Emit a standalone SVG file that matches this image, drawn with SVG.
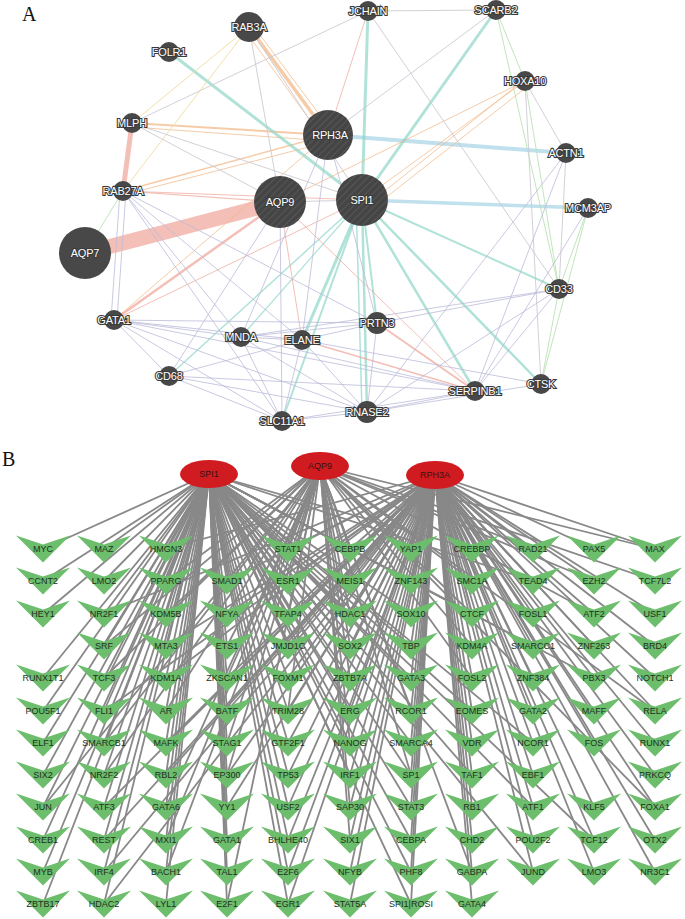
<svg xmlns="http://www.w3.org/2000/svg" width="685" height="919" viewBox="0 0 685 919">
<style>
.pl{font-family:"Liberation Serif","Times New Roman",serif;font-size:20px;fill:#111}
.ea line{fill:none;stroke-linecap:round}
.pu{stroke:#bcbcdb;stroke-width:1;opacity:.8}
.gy{stroke:#c8c8d0;stroke-width:1;opacity:.85}
.te{stroke:#8fd5c8;opacity:.7}
.bl{stroke:#a9d5e6;opacity:.75}
.or{stroke:#f2b581;opacity:.7}
.sa{stroke:#ec9c90;opacity:.65}
.gr{stroke:#b7e0b0;opacity:.85}
.ye{stroke:#f0dca0;opacity:.9}
.gn circle{fill:#484848}
.gl{font-family:"Liberation Sans",Arial,sans-serif;font-size:11px;fill:#fff;stroke:#3a3a3a;stroke-width:2.2;paint-order:stroke;text-anchor:middle;letter-spacing:-0.2px}
.eb path{stroke:#888;stroke-width:1.8;fill:none}
.hub{fill:#d01c20}
.hl{font-family:"Liberation Sans",Arial,sans-serif;font-size:9px;fill:#3a1010;text-anchor:middle}
.tl{font-family:"Liberation Sans",Arial,sans-serif;font-size:9px;fill:#223022;text-anchor:middle}
</style>
<defs>
<pattern id="hatch" width="5" height="5" patternUnits="userSpaceOnUse" patternTransform="rotate(45)">
<rect width="5" height="5" fill="#454545"/>
<line x1="0" y1="0" x2="0" y2="5" stroke="#5e5e5e" stroke-width="1.4"/>
</pattern>
<path id="v" d="M-27 -13.5L0 -4.5L27 -13.5L0 13.5Z" fill="#6cbd6c"/>
</defs>
<rect width="685" height="919" fill="#fff"/>
<text class="pl" x="22" y="21">A</text>
<text class="pl" x="2" y="466">B</text>

<g id="edges-A" class="ea">
<line class="sa" x1="85" y1="253" x2="280" y2="202" stroke-width="15"/>
<line class="sa" x1="132" y1="123" x2="123" y2="191" stroke-width="5"/>
<line class="or" x1="249" y1="27" x2="328" y2="135" stroke-width="3.5"/>
<line class="or" x1="254" y1="27" x2="334" y2="134" stroke-width="1"/>
<line class="or" x1="244" y1="29" x2="322" y2="137" stroke-width="1"/>
<line class="or" x1="132" y1="123" x2="328" y2="135" stroke-width="2"/>
<line class="or" x1="132" y1="127" x2="328" y2="141" stroke-width="1"/>
<line class="or" x1="123" y1="191" x2="328" y2="135" stroke-width="1.5"/>
<line class="or" x1="123" y1="195" x2="328" y2="142" stroke-width="1"/>
<line class="sa" x1="123" y1="191" x2="362" y2="200" stroke-width="1"/>
<line class="bl" x1="328" y1="135" x2="566" y2="153" stroke-width="4"/>
<line class="bl" x1="362" y1="200" x2="588" y2="208" stroke-width="3.5"/>
<line class="te" x1="169" y1="52" x2="362" y2="200" stroke-width="3"/>
<line class="te" x1="368" y1="11" x2="362" y2="200" stroke-width="3"/>
<line class="te" x1="496" y1="10" x2="362" y2="200" stroke-width="3"/>
<line class="te" x1="362" y1="200" x2="367" y2="412" stroke-width="2.5"/>
<line class="te" x1="356" y1="200" x2="362" y2="412" stroke-width="1.5"/>
<line class="te" x1="362" y1="200" x2="302" y2="340" stroke-width="3"/>
<line class="te" x1="362" y1="200" x2="377" y2="323" stroke-width="2"/>
<line class="te" x1="362" y1="200" x2="475" y2="391" stroke-width="2.5"/>
<line class="te" x1="362" y1="200" x2="541" y2="384" stroke-width="2.5"/>
<line class="te" x1="362" y1="200" x2="559" y2="289" stroke-width="2"/>
<line class="te" x1="362" y1="200" x2="282" y2="421" stroke-width="2"/>
<line class="te" x1="362" y1="200" x2="169" y2="376" stroke-width="1.5"/>
<line class="te" x1="362" y1="200" x2="241" y2="337" stroke-width="1.2"/>
<line class="or" x1="525" y1="81" x2="362" y2="200" stroke-width="1"/>
<line class="or" x1="520" y1="83" x2="366" y2="206" stroke-width="1"/>
<line class="or" x1="528" y1="86" x2="370" y2="210" stroke-width="1"/>
<line class="or" x1="525" y1="81" x2="280" y2="202" stroke-width="1"/>
<line class="sa" x1="280" y1="202" x2="114" y2="320" stroke-width="2.5"/>
<line class="sa" x1="280" y1="202" x2="123" y2="191" stroke-width="1.2"/>
<line class="sa" x1="377" y1="323" x2="475" y2="391" stroke-width="2"/>
<line class="sa" x1="302" y1="340" x2="475" y2="391" stroke-width="1.5"/>
<line class="sa" x1="280" y1="202" x2="475" y2="391" stroke-width="1"/>
<line class="sa" x1="280" y1="202" x2="302" y2="340" stroke-width="1"/>
<line class="sa" x1="114" y1="320" x2="362" y2="200" stroke-width="1"/>
<line class="or" x1="114" y1="320" x2="328" y2="135" stroke-width="1"/>
<line class="pu" x1="241" y1="337" x2="302" y2="340" stroke-width="3"/>
<line class="pu" x1="114" y1="320" x2="302" y2="340" stroke-width="1.5"/>
<line class="pu" x1="114" y1="320" x2="241" y2="337" stroke-width="1.5"/>
<line class="pu" x1="114" y1="320" x2="377" y2="323"/>
<line class="gy" x1="368" y1="11" x2="496" y2="10"/>
<line class="gy" x1="368" y1="11" x2="132" y2="123"/>
<line class="gy" x1="368" y1="11" x2="559" y2="289"/>
<line class="sa" x1="368" y1="11" x2="328" y2="135" stroke-width="1"/>
<line class="gr" x1="496" y1="10" x2="525" y2="81"/>
<line class="gr" x1="496" y1="10" x2="559" y2="289"/>
<line class="gy" x1="496" y1="10" x2="328" y2="135"/>
<line class="gy" x1="525" y1="81" x2="566" y2="153"/>
<line class="gr" x1="525" y1="81" x2="559" y2="289"/>
<line class="gy" x1="525" y1="81" x2="541" y2="384"/>
<line class="gy" x1="566" y1="153" x2="559" y2="289"/>
<line class="pu" x1="566" y1="153" x2="475" y2="391"/>
<line class="pu" x1="566" y1="153" x2="367" y2="412"/>
<line class="gr" x1="588" y1="208" x2="559" y2="289"/>
<line class="pu" x1="588" y1="208" x2="475" y2="391"/>
<line class="gr" x1="588" y1="208" x2="541" y2="384"/>
<line class="gr" x1="559" y1="289" x2="541" y2="384"/>
<line class="pu" x1="559" y1="289" x2="475" y2="391"/>
<line class="pu" x1="559" y1="289" x2="367" y2="412"/>
<line class="pu" x1="559" y1="289" x2="377" y2="323"/>
<line class="pu" x1="559" y1="289" x2="241" y2="337"/>
<line class="gy" x1="249" y1="27" x2="280" y2="202"/>
<line class="ye" x1="249" y1="27" x2="123" y2="191"/>
<line class="ye" x1="249" y1="27" x2="132" y2="123"/>
<line class="gy" x1="249" y1="27" x2="362" y2="200"/>
<line class="gy" x1="132" y1="123" x2="280" y2="202"/>
<line class="gy" x1="132" y1="123" x2="362" y2="200"/>
<line class="pu" x1="120" y1="191" x2="111" y2="320"/>
<line class="pu" x1="126" y1="191" x2="117" y2="320"/>
<line class="pu" x1="123" y1="191" x2="241" y2="337"/>
<line class="pu" x1="123" y1="191" x2="302" y2="340"/>
<line class="pu" x1="123" y1="191" x2="282" y2="421"/>
<line class="gr" x1="123" y1="191" x2="85" y2="253"/>
<line class="pu" x1="123" y1="191" x2="377" y2="323"/>
<line class="pu" x1="114" y1="320" x2="169" y2="376"/>
<line class="pu" x1="114" y1="320" x2="282" y2="421"/>
<line class="pu" x1="114" y1="320" x2="475" y2="391"/>
<line class="pu" x1="114" y1="320" x2="367" y2="412"/>
<line class="pu" x1="241" y1="337" x2="282" y2="421"/>
<line class="pu" x1="241" y1="337" x2="367" y2="412"/>
<line class="pu" x1="241" y1="337" x2="475" y2="391"/>
<line class="pu" x1="241" y1="337" x2="377" y2="323"/>
<line class="pu" x1="241" y1="337" x2="328" y2="135"/>
<line class="pu" x1="169" y1="376" x2="282" y2="421"/>
<line class="pu" x1="169" y1="376" x2="367" y2="412"/>
<line class="pu" x1="169" y1="376" x2="475" y2="391"/>
<line class="pu" x1="169" y1="376" x2="280" y2="202"/>
<line class="pu" x1="169" y1="376" x2="302" y2="340"/>
<line class="pu" x1="282" y1="421" x2="367" y2="412"/>
<line class="pu" x1="282" y1="421" x2="475" y2="391"/>
<line class="pu" x1="282" y1="421" x2="280" y2="202"/>
<line class="pu" x1="302" y1="340" x2="377" y2="323"/>
<line class="pu" x1="302" y1="340" x2="367" y2="412"/>
<line class="pu" x1="302" y1="340" x2="282" y2="421"/>
<line class="pu" x1="302" y1="340" x2="541" y2="384"/>
<line class="pu" x1="377" y1="323" x2="367" y2="412"/>
<line class="pu" x1="367" y1="412" x2="475" y2="391"/>
<line class="pu" x1="367" y1="412" x2="541" y2="384"/>
<line class="gy" x1="280" y1="202" x2="362" y2="200"/>
<line class="pu" x1="328" y1="135" x2="302" y2="340"/>
<line class="pu" x1="328" y1="135" x2="377" y2="323"/>
</g>

<g class="gn">
<g id="a-RAB3A"><circle cx="249" cy="27" r="15"/><text class="gl" x="249" y="31">RAB3A</text></g>
<g id="a-FOLR1"><circle cx="169" cy="52" r="10"/><text class="gl" x="169" y="56">FOLR1</text></g>
<g id="a-JCHAIN"><circle cx="368" cy="11" r="10"/><text class="gl" x="368" y="15">JCHAIN</text></g>
<g id="a-SCARB2"><circle cx="496" cy="10" r="10"/><text class="gl" x="496" y="14">SCARB2</text></g>
<g id="a-HOXA10"><circle cx="525" cy="81" r="10"/><text class="gl" x="525" y="85">HOXA10</text></g>
<g id="a-MLPH"><circle cx="132" cy="123" r="10"/><text class="gl" x="132" y="127">MLPH</text></g>
<g id="a-RPH3A"><circle cx="328" cy="135" r="25" style="fill:url(#hatch)"/><text class="gl" x="330" y="139">RPH3A</text></g>
<g id="a-ACTN1"><circle cx="566" cy="153" r="10"/><text class="gl" x="566" y="157">ACTN1</text></g>
<g id="a-RAB27A"><circle cx="123" cy="191" r="10"/><text class="gl" x="123" y="195">RAB27A</text></g>
<g id="a-AQP9"><circle cx="280" cy="202" r="26" style="fill:url(#hatch)"/><text class="gl" x="280" y="206">AQP9</text></g>
<g id="a-SPI1"><circle cx="362" cy="200" r="26" style="fill:url(#hatch)"/><text class="gl" x="362" y="204">SPI1</text></g>
<g id="a-MCM3AP"><circle cx="588" cy="208" r="10"/><text class="gl" x="588" y="212">MCM3AP</text></g>
<g id="a-AQP7"><circle cx="85" cy="253" r="26"/><text class="gl" x="85" y="257">AQP7</text></g>
<g id="a-CD33"><circle cx="559" cy="289" r="10"/><text class="gl" x="559" y="293">CD33</text></g>
<g id="a-GATA1"><circle cx="114" cy="320" r="10"/><text class="gl" x="114" y="324">GATA1</text></g>
<g id="a-PRTN3"><circle cx="377" cy="323" r="11"/><text class="gl" x="377" y="327">PRTN3</text></g>
<g id="a-MNDA"><circle cx="241" cy="337" r="10"/><text class="gl" x="241" y="341">MNDA</text></g>
<g id="a-ELANE"><circle cx="302" cy="340" r="10"/><text class="gl" x="302" y="344">ELANE</text></g>
<g id="a-CD68"><circle cx="169" cy="376" r="10"/><text class="gl" x="169" y="380">CD68</text></g>
<g id="a-CTSK"><circle cx="541" cy="384" r="10"/><text class="gl" x="541" y="388">CTSK</text></g>
<g id="a-SERPINB1"><circle cx="475" cy="391" r="10"/><text class="gl" x="475" y="395">SERPINB1</text></g>
<g id="a-SLC11A1"><circle cx="282" cy="421" r="10"/><text class="gl" x="282" y="425">SLC11A1</text></g>
<g id="a-RNASE2"><circle cx="367" cy="412" r="11"/><text class="gl" x="367" y="416">RNASE2</text></g>
</g>

<g id="edges-B" class="eb">
<path d="M209 474L43 549"/><path d="M209 474L104 549"/><path d="M209 474L166 549"/><path d="M435 475L166 549"/><path d="M209 474L288 549"/><path d="M320 466L288 549"/><path d="M435 475L288 549"/><path d="M209 474L350 549"/><path d="M320 466L350 549"/><path d="M435 475L350 549"/><path d="M320 466L411 549"/><path d="M435 475L411 549"/><path d="M209 474L472 549"/><path d="M435 475L472 549"/><path d="M435 475L533 549"/><path d="M320 466L533 549"/><path d="M435 475L594 549"/><path d="M435 475L655 549"/><path d="M320 466L655 549"/>
<path d="M209 474L43 581"/><path d="M209 474L104 581"/><path d="M209 474L166 581"/><path d="M320 466L166 581"/><path d="M209 474L227 581"/><path d="M435 475L227 581"/><path d="M209 474L288 581"/><path d="M320 466L288 581"/><path d="M435 475L288 581"/><path d="M209 474L350 581"/><path d="M320 466L350 581"/><path d="M435 475L350 581"/><path d="M209 474L411 581"/><path d="M435 475L411 581"/><path d="M320 466L472 581"/><path d="M435 475L472 581"/><path d="M435 475L533 581"/><path d="M209 474L533 581"/><path d="M435 475L594 581"/><path d="M320 466L594 581"/><path d="M320 466L655 581"/>
<path d="M209 474L43 614"/><path d="M209 474L104 614"/><path d="M435 475L104 614"/><path d="M209 474L166 614"/><path d="M320 466L166 614"/><path d="M209 474L227 614"/><path d="M435 475L227 614"/><path d="M209 474L288 614"/><path d="M320 466L288 614"/><path d="M435 475L288 614"/><path d="M209 474L350 614"/><path d="M320 466L350 614"/><path d="M435 475L350 614"/><path d="M209 474L411 614"/><path d="M435 475L411 614"/><path d="M209 474L472 614"/><path d="M320 466L472 614"/><path d="M435 475L472 614"/><path d="M435 475L533 614"/><path d="M435 475L594 614"/><path d="M320 466L594 614"/><path d="M435 475L655 614"/>
<path d="M209 474L104 646"/><path d="M320 466L104 646"/><path d="M209 474L166 646"/><path d="M435 475L166 646"/><path d="M209 474L227 646"/><path d="M320 466L227 646"/><path d="M209 474L288 646"/><path d="M435 475L288 646"/><path d="M209 474L350 646"/><path d="M320 466L350 646"/><path d="M435 475L350 646"/><path d="M209 474L411 646"/><path d="M435 475L411 646"/><path d="M435 475L472 646"/><path d="M320 466L472 646"/><path d="M435 475L533 646"/><path d="M209 474L533 646"/><path d="M435 475L594 646"/><path d="M435 475L655 646"/>
<path d="M209 474L43 678"/><path d="M209 474L104 678"/><path d="M320 466L104 678"/><path d="M209 474L166 678"/><path d="M435 475L166 678"/><path d="M209 474L227 678"/><path d="M320 466L227 678"/><path d="M435 475L227 678"/><path d="M209 474L288 678"/><path d="M435 475L288 678"/><path d="M209 474L350 678"/><path d="M320 466L350 678"/><path d="M209 474L411 678"/><path d="M435 475L411 678"/><path d="M435 475L472 678"/><path d="M320 466L472 678"/><path d="M435 475L533 678"/><path d="M435 475L594 678"/><path d="M209 474L594 678"/><path d="M435 475L655 678"/>
<path d="M209 474L43 711"/><path d="M209 474L104 711"/><path d="M435 475L104 711"/><path d="M209 474L166 711"/><path d="M320 466L166 711"/><path d="M209 474L227 711"/><path d="M435 475L227 711"/><path d="M209 474L288 711"/><path d="M320 466L288 711"/><path d="M435 475L288 711"/><path d="M209 474L350 711"/><path d="M435 475L350 711"/><path d="M320 466L411 711"/><path d="M435 475L411 711"/><path d="M209 474L472 711"/><path d="M435 475L472 711"/><path d="M435 475L533 711"/><path d="M435 475L594 711"/><path d="M435 475L655 711"/><path d="M320 466L655 711"/>
<path d="M209 474L43 743"/><path d="M209 474L104 743"/><path d="M320 466L104 743"/><path d="M209 474L166 743"/><path d="M435 475L166 743"/><path d="M209 474L227 743"/><path d="M320 466L227 743"/><path d="M209 474L288 743"/><path d="M435 475L288 743"/><path d="M209 474L350 743"/><path d="M320 466L350 743"/><path d="M435 475L350 743"/><path d="M209 474L411 743"/><path d="M435 475L411 743"/><path d="M435 475L472 743"/><path d="M435 475L533 743"/><path d="M209 474L533 743"/><path d="M435 475L594 743"/><path d="M435 475L655 743"/>
<path d="M209 474L43 775"/><path d="M209 474L104 775"/><path d="M320 466L104 775"/><path d="M209 474L166 775"/><path d="M435 475L166 775"/><path d="M209 474L227 775"/><path d="M320 466L227 775"/><path d="M435 475L227 775"/><path d="M209 474L288 775"/><path d="M435 475L288 775"/><path d="M209 474L350 775"/><path d="M435 475L350 775"/><path d="M209 474L411 775"/><path d="M320 466L411 775"/><path d="M435 475L411 775"/><path d="M435 475L472 775"/><path d="M209 474L472 775"/><path d="M435 475L533 775"/><path d="M435 475L655 775"/>
<path d="M209 474L43 807"/><path d="M320 466L43 807"/><path d="M209 474L104 807"/><path d="M435 475L104 807"/><path d="M209 474L166 807"/><path d="M320 466L166 807"/><path d="M209 474L227 807"/><path d="M435 475L227 807"/><path d="M209 474L288 807"/><path d="M435 475L288 807"/><path d="M435 475L350 807"/><path d="M320 466L350 807"/><path d="M209 474L411 807"/><path d="M435 475L411 807"/><path d="M435 475L472 807"/><path d="M435 475L533 807"/><path d="M209 474L533 807"/><path d="M435 475L594 807"/><path d="M435 475L655 807"/><path d="M320 466L655 807"/>
<path d="M209 474L43 840"/><path d="M209 474L104 840"/><path d="M435 475L104 840"/><path d="M209 474L166 840"/><path d="M320 466L166 840"/><path d="M209 474L227 840"/><path d="M209 474L288 840"/><path d="M435 475L288 840"/><path d="M435 475L350 840"/><path d="M320 466L350 840"/><path d="M209 474L411 840"/><path d="M435 475L411 840"/><path d="M435 475L472 840"/><path d="M435 475L533 840"/><path d="M435 475L594 840"/><path d="M209 474L594 840"/><path d="M435 475L655 840"/>
<path d="M209 474L43 872"/><path d="M209 474L104 872"/><path d="M435 475L104 872"/><path d="M209 474L166 872"/><path d="M320 466L166 872"/><path d="M209 474L227 872"/><path d="M209 474L288 872"/><path d="M435 475L288 872"/><path d="M435 475L350 872"/><path d="M209 474L411 872"/><path d="M435 475L411 872"/><path d="M435 475L472 872"/><path d="M320 466L472 872"/><path d="M435 475L533 872"/><path d="M209 474L533 872"/><path d="M435 475L594 872"/><path d="M435 475L655 872"/>
<path d="M209 474L43 904"/><path d="M209 474L104 904"/><path d="M435 475L104 904"/><path d="M209 474L166 904"/><path d="M209 474L227 904"/><path d="M320 466L227 904"/><path d="M209 474L288 904"/><path d="M435 475L288 904"/><path d="M435 475L350 904"/><path d="M209 474L411 904"/><path d="M435 475L411 904"/><path d="M435 475L472 904"/>
</g>

<g id="b-SPI1"><ellipse class="hub" cx="209" cy="474" rx="29" ry="14"/><text class="hl" x="209" y="477">SPI1</text></g>
<g id="b-AQP9"><ellipse class="hub" cx="320" cy="466" rx="29" ry="14"/><text class="hl" x="320" y="469">AQP9</text></g>
<g id="b-RPH3A"><ellipse class="hub" cx="435" cy="475" rx="29" ry="14"/><text class="hl" x="435" y="478">RPH3A</text></g>

<g id="n-MYC" transform="translate(43 549)"><use href="#v"/><text class="tl" y="3">MYC</text></g>
<g id="n-MAZ" transform="translate(104 549)"><use href="#v"/><text class="tl" y="3">MAZ</text></g>
<g id="n-HMGN3" transform="translate(166 549)"><use href="#v"/><text class="tl" y="3">HMGN3</text></g>
<g id="n-STAT1" transform="translate(288 549)"><use href="#v"/><text class="tl" y="3">STAT1</text></g>
<g id="n-CEBPB" transform="translate(350 549)"><use href="#v"/><text class="tl" y="3">CEBPB</text></g>
<g id="n-YAP1" transform="translate(411 549)"><use href="#v"/><text class="tl" y="3">YAP1</text></g>
<g id="n-CREBBP" transform="translate(472 549)"><use href="#v"/><text class="tl" y="3">CREBBP</text></g>
<g id="n-RAD21" transform="translate(533 549)"><use href="#v"/><text class="tl" y="3">RAD21</text></g>
<g id="n-PAX5" transform="translate(594 549)"><use href="#v"/><text class="tl" y="3">PAX5</text></g>
<g id="n-MAX" transform="translate(655 549)"><use href="#v"/><text class="tl" y="3">MAX</text></g>

<g id="n-CCNT2" transform="translate(43 581)"><use href="#v"/><text class="tl" y="3">CCNT2</text></g>
<g id="n-LMO2" transform="translate(104 581)"><use href="#v"/><text class="tl" y="3">LMO2</text></g>
<g id="n-PPARG" transform="translate(166 581)"><use href="#v"/><text class="tl" y="3">PPARG</text></g>
<g id="n-SMAD1" transform="translate(227 581)"><use href="#v"/><text class="tl" y="3">SMAD1</text></g>
<g id="n-ESR1" transform="translate(288 581)"><use href="#v"/><text class="tl" y="3">ESR1</text></g>
<g id="n-MEIS1" transform="translate(350 581)"><use href="#v"/><text class="tl" y="3">MEIS1</text></g>
<g id="n-ZNF143" transform="translate(411 581)"><use href="#v"/><text class="tl" y="3">ZNF143</text></g>
<g id="n-SMC1A" transform="translate(472 581)"><use href="#v"/><text class="tl" y="3">SMC1A</text></g>
<g id="n-TEAD4" transform="translate(533 581)"><use href="#v"/><text class="tl" y="3">TEAD4</text></g>
<g id="n-EZH2" transform="translate(594 581)"><use href="#v"/><text class="tl" y="3">EZH2</text></g>
<g id="n-TCF7L2" transform="translate(655 581)"><use href="#v"/><text class="tl" y="3">TCF7L2</text></g>

<g id="n-HEY1" transform="translate(43 614)"><use href="#v"/><text class="tl" y="3">HEY1</text></g>
<g id="n-NR2F1" transform="translate(104 614)"><use href="#v"/><text class="tl" y="3">NR2F1</text></g>
<g id="n-KDM5B" transform="translate(166 614)"><use href="#v"/><text class="tl" y="3">KDM5B</text></g>
<g id="n-NFYA" transform="translate(227 614)"><use href="#v"/><text class="tl" y="3">NFYA</text></g>
<g id="n-TFAP4" transform="translate(288 614)"><use href="#v"/><text class="tl" y="3">TFAP4</text></g>
<g id="n-HDAC1" transform="translate(350 614)"><use href="#v"/><text class="tl" y="3">HDAC1</text></g>
<g id="n-SOX10" transform="translate(411 614)"><use href="#v"/><text class="tl" y="3">SOX10</text></g>
<g id="n-CTCF" transform="translate(472 614)"><use href="#v"/><text class="tl" y="3">CTCF</text></g>
<g id="n-FOSL1" transform="translate(533 614)"><use href="#v"/><text class="tl" y="3">FOSL1</text></g>
<g id="n-ATF2" transform="translate(594 614)"><use href="#v"/><text class="tl" y="3">ATF2</text></g>
<g id="n-USF1" transform="translate(655 614)"><use href="#v"/><text class="tl" y="3">USF1</text></g>

<g id="n-SRF" transform="translate(104 646)"><use href="#v"/><text class="tl" y="3">SRF</text></g>
<g id="n-MTA3" transform="translate(166 646)"><use href="#v"/><text class="tl" y="3">MTA3</text></g>
<g id="n-ETS1" transform="translate(227 646)"><use href="#v"/><text class="tl" y="3">ETS1</text></g>
<g id="n-JMJD1C" transform="translate(288 646)"><use href="#v"/><text class="tl" y="3">JMJD1C</text></g>
<g id="n-SOX2" transform="translate(350 646)"><use href="#v"/><text class="tl" y="3">SOX2</text></g>
<g id="n-TBP" transform="translate(411 646)"><use href="#v"/><text class="tl" y="3">TBP</text></g>
<g id="n-KDM4A" transform="translate(472 646)"><use href="#v"/><text class="tl" y="3">KDM4A</text></g>
<g id="n-SMARCC1" transform="translate(533 646)"><use href="#v"/><text class="tl" y="3">SMARCC1</text></g>
<g id="n-ZNF263" transform="translate(594 646)"><use href="#v"/><text class="tl" y="3">ZNF263</text></g>
<g id="n-BRD4" transform="translate(655 646)"><use href="#v"/><text class="tl" y="3">BRD4</text></g>

<g id="n-RUNX1T1" transform="translate(43 678)"><use href="#v"/><text class="tl" y="3">RUNX1T1</text></g>
<g id="n-TCF3" transform="translate(104 678)"><use href="#v"/><text class="tl" y="3">TCF3</text></g>
<g id="n-KDM1A" transform="translate(166 678)"><use href="#v"/><text class="tl" y="3">KDM1A</text></g>
<g id="n-ZKSCAN1" transform="translate(227 678)"><use href="#v"/><text class="tl" y="3">ZKSCAN1</text></g>
<g id="n-FOXM1" transform="translate(288 678)"><use href="#v"/><text class="tl" y="3">FOXM1</text></g>
<g id="n-ZBTB7A" transform="translate(350 678)"><use href="#v"/><text class="tl" y="3">ZBTB7A</text></g>
<g id="n-GATA3" transform="translate(411 678)"><use href="#v"/><text class="tl" y="3">GATA3</text></g>
<g id="n-FOSL2" transform="translate(472 678)"><use href="#v"/><text class="tl" y="3">FOSL2</text></g>
<g id="n-ZNF384" transform="translate(533 678)"><use href="#v"/><text class="tl" y="3">ZNF384</text></g>
<g id="n-PBX3" transform="translate(594 678)"><use href="#v"/><text class="tl" y="3">PBX3</text></g>
<g id="n-NOTCH1" transform="translate(655 678)"><use href="#v"/><text class="tl" y="3">NOTCH1</text></g>

<g id="n-POU5F1" transform="translate(43 711)"><use href="#v"/><text class="tl" y="3">POU5F1</text></g>
<g id="n-FLI1" transform="translate(104 711)"><use href="#v"/><text class="tl" y="3">FLI1</text></g>
<g id="n-AR" transform="translate(166 711)"><use href="#v"/><text class="tl" y="3">AR</text></g>
<g id="n-BATF" transform="translate(227 711)"><use href="#v"/><text class="tl" y="3">BATF</text></g>
<g id="n-TRIM28" transform="translate(288 711)"><use href="#v"/><text class="tl" y="3">TRIM28</text></g>
<g id="n-ERG" transform="translate(350 711)"><use href="#v"/><text class="tl" y="3">ERG</text></g>
<g id="n-RCOR1" transform="translate(411 711)"><use href="#v"/><text class="tl" y="3">RCOR1</text></g>
<g id="n-EOMES" transform="translate(472 711)"><use href="#v"/><text class="tl" y="3">EOMES</text></g>
<g id="n-GATA2" transform="translate(533 711)"><use href="#v"/><text class="tl" y="3">GATA2</text></g>
<g id="n-MAFF" transform="translate(594 711)"><use href="#v"/><text class="tl" y="3">MAFF</text></g>
<g id="n-RELA" transform="translate(655 711)"><use href="#v"/><text class="tl" y="3">RELA</text></g>

<g id="n-ELF1" transform="translate(43 743)"><use href="#v"/><text class="tl" y="3">ELF1</text></g>
<g id="n-SMARCB1" transform="translate(104 743)"><use href="#v"/><text class="tl" y="3">SMARCB1</text></g>
<g id="n-MAFK" transform="translate(166 743)"><use href="#v"/><text class="tl" y="3">MAFK</text></g>
<g id="n-STAG1" transform="translate(227 743)"><use href="#v"/><text class="tl" y="3">STAG1</text></g>
<g id="n-GTF2F1" transform="translate(288 743)"><use href="#v"/><text class="tl" y="3">GTF2F1</text></g>
<g id="n-NANOG" transform="translate(350 743)"><use href="#v"/><text class="tl" y="3">NANOG</text></g>
<g id="n-SMARCA4" transform="translate(411 743)"><use href="#v"/><text class="tl" y="3">SMARCA4</text></g>
<g id="n-VDR" transform="translate(472 743)"><use href="#v"/><text class="tl" y="3">VDR</text></g>
<g id="n-NCOR1" transform="translate(533 743)"><use href="#v"/><text class="tl" y="3">NCOR1</text></g>
<g id="n-FOS" transform="translate(594 743)"><use href="#v"/><text class="tl" y="3">FOS</text></g>
<g id="n-RUNX1" transform="translate(655 743)"><use href="#v"/><text class="tl" y="3">RUNX1</text></g>

<g id="n-SIX2" transform="translate(43 775)"><use href="#v"/><text class="tl" y="3">SIX2</text></g>
<g id="n-NR2F2" transform="translate(104 775)"><use href="#v"/><text class="tl" y="3">NR2F2</text></g>
<g id="n-RBL2" transform="translate(166 775)"><use href="#v"/><text class="tl" y="3">RBL2</text></g>
<g id="n-EP300" transform="translate(227 775)"><use href="#v"/><text class="tl" y="3">EP300</text></g>
<g id="n-TP53" transform="translate(288 775)"><use href="#v"/><text class="tl" y="3">TP53</text></g>
<g id="n-IRF1" transform="translate(350 775)"><use href="#v"/><text class="tl" y="3">IRF1</text></g>
<g id="n-SP1" transform="translate(411 775)"><use href="#v"/><text class="tl" y="3">SP1</text></g>
<g id="n-TAF1" transform="translate(472 775)"><use href="#v"/><text class="tl" y="3">TAF1</text></g>
<g id="n-EBF1" transform="translate(533 775)"><use href="#v"/><text class="tl" y="3">EBF1</text></g>
<g id="n-PRKCQ" transform="translate(655 775)"><use href="#v"/><text class="tl" y="3">PRKCQ</text></g>

<g id="n-JUN" transform="translate(43 807)"><use href="#v"/><text class="tl" y="3">JUN</text></g>
<g id="n-ATF3" transform="translate(104 807)"><use href="#v"/><text class="tl" y="3">ATF3</text></g>
<g id="n-GATA6" transform="translate(166 807)"><use href="#v"/><text class="tl" y="3">GATA6</text></g>
<g id="n-YY1" transform="translate(227 807)"><use href="#v"/><text class="tl" y="3">YY1</text></g>
<g id="n-USF2" transform="translate(288 807)"><use href="#v"/><text class="tl" y="3">USF2</text></g>
<g id="n-SAP30" transform="translate(350 807)"><use href="#v"/><text class="tl" y="3">SAP30</text></g>
<g id="n-STAT3" transform="translate(411 807)"><use href="#v"/><text class="tl" y="3">STAT3</text></g>
<g id="n-RB1" transform="translate(472 807)"><use href="#v"/><text class="tl" y="3">RB1</text></g>
<g id="n-ATF1" transform="translate(533 807)"><use href="#v"/><text class="tl" y="3">ATF1</text></g>
<g id="n-KLF5" transform="translate(594 807)"><use href="#v"/><text class="tl" y="3">KLF5</text></g>
<g id="n-FOXA1" transform="translate(655 807)"><use href="#v"/><text class="tl" y="3">FOXA1</text></g>

<g id="n-CREB1" transform="translate(43 840)"><use href="#v"/><text class="tl" y="3">CREB1</text></g>
<g id="n-REST" transform="translate(104 840)"><use href="#v"/><text class="tl" y="3">REST</text></g>
<g id="n-MXI1" transform="translate(166 840)"><use href="#v"/><text class="tl" y="3">MXI1</text></g>
<g id="n-GATA1" transform="translate(227 840)"><use href="#v"/><text class="tl" y="3">GATA1</text></g>
<g id="n-BHLHE40" transform="translate(288 840)"><use href="#v"/><text class="tl" y="3">BHLHE40</text></g>
<g id="n-SIX1" transform="translate(350 840)"><use href="#v"/><text class="tl" y="3">SIX1</text></g>
<g id="n-CEBPA" transform="translate(411 840)"><use href="#v"/><text class="tl" y="3">CEBPA</text></g>
<g id="n-CHD2" transform="translate(472 840)"><use href="#v"/><text class="tl" y="3">CHD2</text></g>
<g id="n-POU2F2" transform="translate(533 840)"><use href="#v"/><text class="tl" y="3">POU2F2</text></g>
<g id="n-TCF12" transform="translate(594 840)"><use href="#v"/><text class="tl" y="3">TCF12</text></g>
<g id="n-OTX2" transform="translate(655 840)"><use href="#v"/><text class="tl" y="3">OTX2</text></g>

<g id="n-MYB" transform="translate(43 872)"><use href="#v"/><text class="tl" y="3">MYB</text></g>
<g id="n-IRF4" transform="translate(104 872)"><use href="#v"/><text class="tl" y="3">IRF4</text></g>
<g id="n-BACH1" transform="translate(166 872)"><use href="#v"/><text class="tl" y="3">BACH1</text></g>
<g id="n-TAL1" transform="translate(227 872)"><use href="#v"/><text class="tl" y="3">TAL1</text></g>
<g id="n-E2F6" transform="translate(288 872)"><use href="#v"/><text class="tl" y="3">E2F6</text></g>
<g id="n-NFYB" transform="translate(350 872)"><use href="#v"/><text class="tl" y="3">NFYB</text></g>
<g id="n-PHF8" transform="translate(411 872)"><use href="#v"/><text class="tl" y="3">PHF8</text></g>
<g id="n-GABPA" transform="translate(472 872)"><use href="#v"/><text class="tl" y="3">GABPA</text></g>
<g id="n-JUND" transform="translate(533 872)"><use href="#v"/><text class="tl" y="3">JUND</text></g>
<g id="n-LMO3" transform="translate(594 872)"><use href="#v"/><text class="tl" y="3">LMO3</text></g>
<g id="n-NR3C1" transform="translate(655 872)"><use href="#v"/><text class="tl" y="3">NR3C1</text></g>

<g id="n-ZBTB17" transform="translate(43 904)"><use href="#v"/><text class="tl" y="3">ZBTB17</text></g>
<g id="n-HDAC2" transform="translate(104 904)"><use href="#v"/><text class="tl" y="3">HDAC2</text></g>
<g id="n-LYL1" transform="translate(166 904)"><use href="#v"/><text class="tl" y="3">LYL1</text></g>
<g id="n-E2F1" transform="translate(227 904)"><use href="#v"/><text class="tl" y="3">E2F1</text></g>
<g id="n-EGR1" transform="translate(288 904)"><use href="#v"/><text class="tl" y="3">EGR1</text></g>
<g id="n-STAT5A" transform="translate(350 904)"><use href="#v"/><text class="tl" y="3">STAT5A</text></g>
<g id="n-SPI1ROSI" transform="translate(411 904)"><use href="#v"/><text class="tl" y="3">SPI1|ROSI</text></g>
<g id="n-GATA4" transform="translate(472 904)"><use href="#v"/><text class="tl" y="3">GATA4</text></g>
</svg>
